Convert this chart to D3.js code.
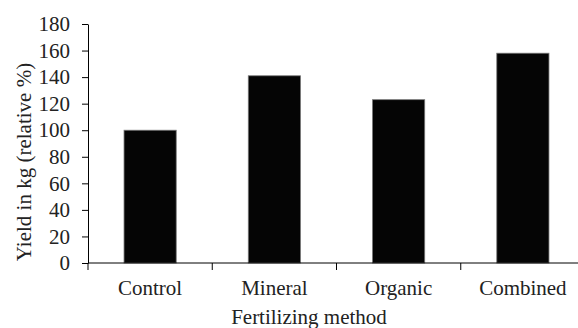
<!DOCTYPE html>
<style>
body { margin: 0; background: #fff; }
svg text { font-family: 'Liberation Serif', 'Times New Roman', serif; font-size: 21px; }
</style>
<svg width="578" height="328"></svg>
<script src="https://d3js.org/d3.v7.min.js"></script>
<script>

// chart data
var categories = ["Control", "Mineral", "Organic", "Combined"];
var yields = [100, 141, 123, 158];
var yTicks = [0, 20, 40, 60, 80, 100, 120, 140, 160, 180];

var svg = d3.select("svg"),
    mLeft = 88, mTop = 24, mBottom = 263, mRight = 585,
    serif = "'Liberation Serif', 'Times New Roman', serif";

var x = d3.scaleBand()
    .domain(categories)
    .range([mLeft, mRight])
    .paddingInner(0.58)
    .paddingOuter(0.29);

var y = d3.scaleLinear()
    .domain([0, 180])
    .range([mBottom, mTop]);

// bars
svg.selectAll("rect.bar")
    .data(yields)
  .enter().append("rect")
    .attr("class", "bar")
    .attr("x", function(d, i) { return x(categories[i]); })
    .attr("y", function(d) { return y(d); })
    .attr("width", x.bandwidth())
    .attr("height", function(d) { return mBottom - y(d); })
    .attr("fill", "#050505")
    .attr("stroke", "#777")
    .attr("stroke-width", 0.8);

// y axis
var yAxis = svg.append("g")
    .attr("transform", "translate(" + mLeft + ",0)")
    .call(d3.axisLeft(y).tickValues(yTicks).tickSize(6).tickPadding(12).tickSizeOuter(0))
    .attr("font-family", null)
    .attr("font-size", null);
yAxis.selectAll("text")
    .style("font-family", serif)
    .style("font-size", "21px")
    .attr("fill", "#222");

// x axis: ticks at band boundaries
var xAxis = svg.append("g")
    .attr("transform", "translate(0," + mBottom + ")");
xAxis.append("line")
    .attr("x1", mLeft).attr("x2", mRight)
    .attr("stroke", "#000");
var step = x.step();
xAxis.selectAll("line.tick")
    .data(d3.range(categories.length + 1))
  .enter().append("line")
    .attr("class", "tick")
    .attr("x1", function(i) { return mLeft + i * step; })
    .attr("x2", function(i) { return mLeft + i * step; })
    .attr("y1", 0).attr("y2", 7)
    .attr("stroke", "#000");
xAxis.selectAll("text")
    .data(categories)
  .enter().append("text")
    .attr("x", function(d) { return x(d) + x.bandwidth() / 2; })
    .attr("y", 32)
    .attr("text-anchor", "middle")
    .style("font-family", serif)
    .style("font-size", "21px")
    .attr("fill", "#222")
    .text(function(d) { return d; });

// axis titles
svg.append("text")
    .attr("x", 309).attr("y", 324)
    .attr("text-anchor", "middle")
    .style("font-family", serif)
    .style("font-size", "21px")
    .attr("fill", "#222")
    .text("Fertilizing method");

svg.append("text")
    .attr("transform", "translate(31,162) rotate(-90)")
    .attr("text-anchor", "middle")
    .style("font-family", serif)
    .style("font-size", "21px")
    .attr("fill", "#222")
    .text("Yield in kg (relative %)");

</script>
